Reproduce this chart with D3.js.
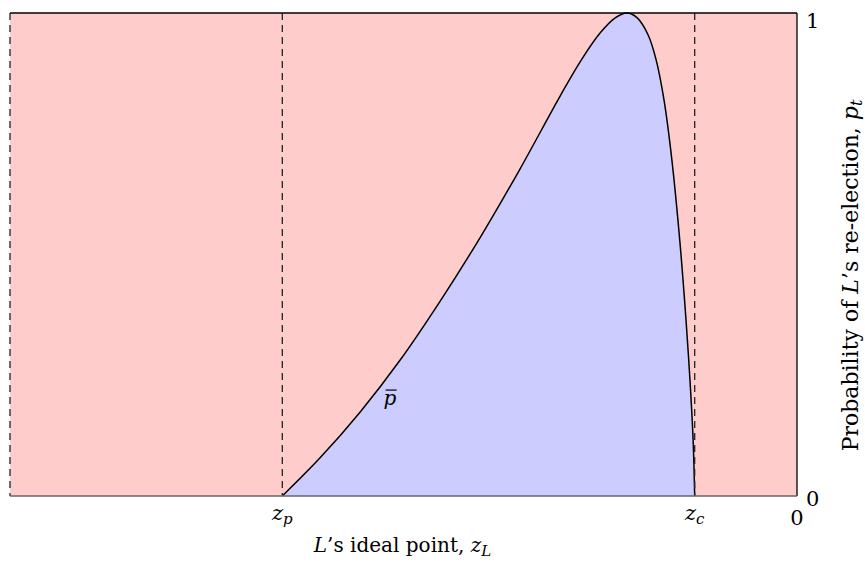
<!DOCTYPE html>
<html>
<head>
<meta charset="utf-8">
<script src="https://cdn.jsdelivr.net/npm/d3@7"></script>
<style>
  body { margin: 0; background: #fff; }
  svg { display: block; }
  text { font-family: "DejaVu Serif", "Liberation Serif", serif; fill: #000; }
  .it { font-style: italic; }
</style>
</head>
<body>
<div id="chart"></div>
<script>
// Curve p-bar: L's ideal point (x) vs probability of re-election (y)
var curveX = [-0.654, -0.606, -0.555, -0.504, -0.454, -0.403, -0.352, -0.301, -0.274, -0.250,
              -0.231, -0.216, -0.203, -0.189, -0.179, -0.169, -0.159, -0.149, -0.141, -0.136,
              -0.132, -0.130];
var curveY = [0, 0.079, 0.174, 0.282, 0.402, 0.534, 0.677, 0.828, 0.903, 0.959,
              0.990, 1.0, 0.990, 0.954, 0.903, 0.820, 0.696, 0.530, 0.364, 0.240,
              0.116, 0];
var zp = -0.654, zc = -0.130;
var xTicks = [zp, zc, 0];
var xTickLabels = [["z", "p"], ["z", "c"], ["0", ""]];
var yTicks = [0, 1];

var width = 865, height = 572;
var margin = {top: 13, right: 68, bottom: 76, left: 10};
var innerW = width - margin.left - margin.right;
var innerH = height - margin.top - margin.bottom;

var x = d3.scaleLinear().domain([-1, 0]).range([0, innerW]);
var y = d3.scaleLinear().domain([0, 1]).range([innerH, 0]);

var svg = d3.select("#chart").append("svg")
    .attr("width", width).attr("height", height);
var g = svg.append("g").attr("transform", "translate(" + margin.left + "," + margin.top + ")");

svg.append("defs").append("clipPath").attr("id", "plotclip")
  .append("rect").attr("x", 0).attr("y", 0).attr("width", innerW).attr("height", innerH);

// background region
g.append("rect")
  .attr("x", x(-1)).attr("y", y(1))
  .attr("width", x(0) - x(-1)).attr("height", y(0) - y(1))
  .attr("fill", "#ffcccc");

var pts = curveX.map(function(d, i) { return [d, curveY[i]]; });
var smooth = d3.curveCatmullRom.alpha(0.5);

var area = d3.area()
  .x(function(d) { return x(d[0]); })
  .y0(y(0))
  .y1(function(d) { return y(d[1]); })
  .curve(smooth);
g.append("path").datum(pts).attr("d", area).attr("fill", "#ccccff")
  .attr("clip-path", "url(#plotclip)");

var line = d3.line()
  .x(function(d) { return x(d[0]); })
  .y(function(d) { return y(d[1]); })
  .curve(smooth);
g.append("path").datum(pts).attr("d", line)
  .attr("fill", "none").attr("stroke", "#000").attr("stroke-width", 1.5);

// dashed verticals
[-1, zp, zc].forEach(function(v) {
  g.append("line")
    .attr("x1", x(v)).attr("x2", x(v))
    .attr("y1", y(1)).attr("y2", y(0))
    .attr("stroke", "#222").attr("stroke-width", 1.3)
    .attr("stroke-dasharray", "7,5");
});

// frame: top + right solid black, bottom grey
g.append("line").attr("x1", x(-1)).attr("x2", x(0)).attr("y1", y(1)).attr("y2", y(1))
  .attr("stroke", "#000").attr("stroke-width", 1.5);
g.append("line").attr("x1", x(0)).attr("x2", x(0)).attr("y1", y(1)).attr("y2", y(0))
  .attr("stroke", "#000").attr("stroke-width", 1.3);
g.append("line").attr("x1", x(-1)).attr("x2", x(0)).attr("y1", y(0)).attr("y2", y(0))
  .attr("stroke", "#666").attr("stroke-width", 1.5);

// x tick labels
xTicks.forEach(function(v, i) {
  var t = g.append("text")
    .attr("x", x(v)).attr("y", innerH + (i == 2 ? 29 : 24))
    .attr("text-anchor", "middle").attr("font-size", 21);
  if (xTickLabels[i][1]) {
    t.append("tspan").attr("class", "it").text(xTickLabels[i][0]);
    t.append("tspan").attr("class", "it").attr("font-size", 15).attr("dy", 4).text(xTickLabels[i][1]);
  } else {
    t.text(xTickLabels[i][0]);
  }
});

// y tick labels
yTicks.forEach(function(v) {
  g.append("text")
    .attr("x", innerW + 9).attr("y", y(v) + (v == 1 ? 15 : 10))
    .attr("font-size", 21).text(String(v));
});

// x axis title
var xt = g.append("text")
  .attr("x", x(-0.5) - 1).attr("y", innerH + 56)
  .attr("text-anchor", "middle").attr("font-size", 20);
xt.append("tspan").attr("class", "it").text("L");
xt.append("tspan").text("’s ideal point, ");
xt.append("tspan").attr("class", "it").text("z");
xt.append("tspan").attr("class", "it").attr("font-size", 15).attr("dy", 4).text("L");

// y axis title (rotated)
var yt = g.append("text")
  .attr("transform", "translate(" + (innerW + 61) + "," + (y(0.5) + 21) + ") rotate(-90)")
  .attr("text-anchor", "middle").attr("font-size", 22);
yt.append("tspan").text("Probability of ");
yt.append("tspan").attr("class", "it").text("L");
yt.append("tspan").text("’s re-election, ");
yt.append("tspan").attr("class", "it").text("p");
yt.append("tspan").attr("class", "it").attr("font-size", 16).attr("dy", 4).text("t");

// curve label p-bar
var lx = x(-0.524) - 1, ly = y(0.24) + 25;
g.append("text").attr("class", "it")
  .attr("x", lx).attr("y", ly).attr("font-size", 20).text("p");
g.append("line")
  .attr("x1", lx + 2).attr("x2", lx + 13)
  .attr("y1", ly - 15).attr("y2", ly - 15)
  .attr("stroke", "#000").attr("stroke-width", 1.2);
</script>
</body>
</html>
